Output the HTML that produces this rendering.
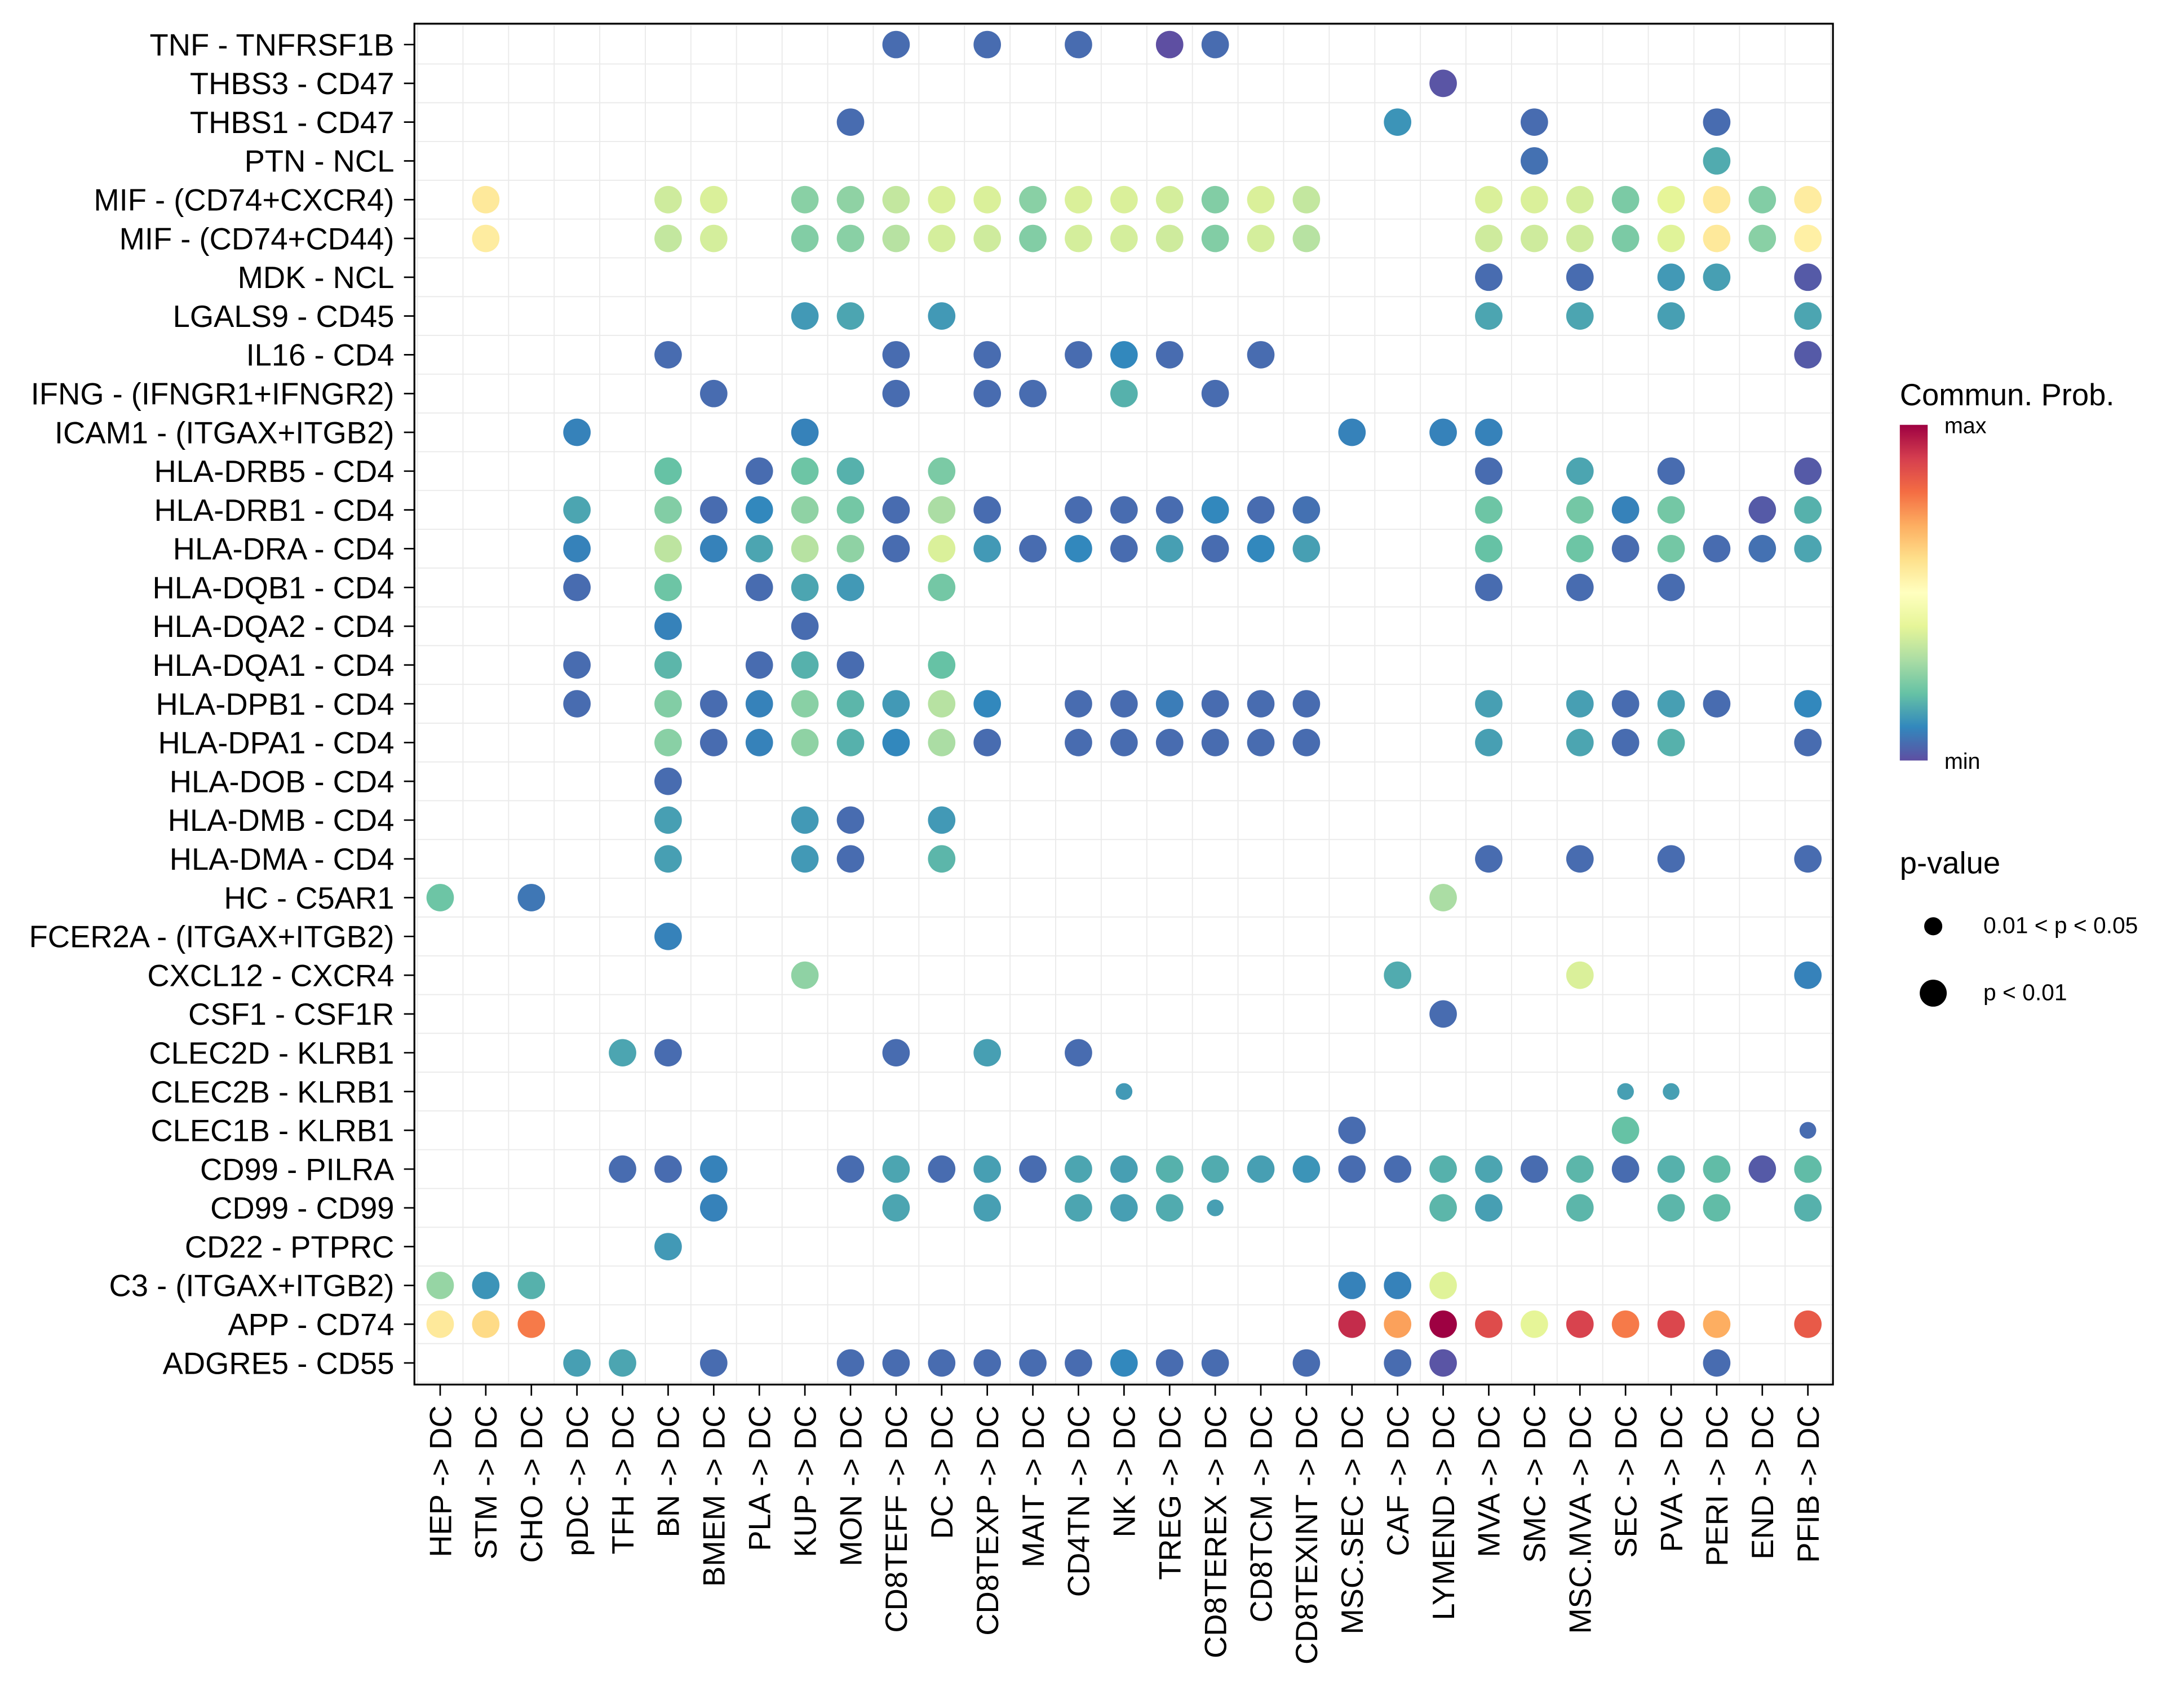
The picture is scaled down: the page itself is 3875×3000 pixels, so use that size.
<!DOCTYPE html>
<html><head><meta charset="utf-8"><style>
html,body{margin:0;padding:0;background:#fff}
svg{display:block}
text{font-family:"Liberation Sans",sans-serif;fill:#000}
</style></head><body>
<svg id="chart" width="3875" height="3000" viewBox="0 0 1568 1214" xmlns="http://www.w3.org/2000/svg">
<defs>
<linearGradient id="cbar" x1="0" y1="1" x2="0" y2="0">
<stop offset="0" stop-color="#5E4FA2"/><stop offset="0.1" stop-color="#3288BD"/><stop offset="0.2" stop-color="#66C2A5"/><stop offset="0.3" stop-color="#ABDDA4"/><stop offset="0.4" stop-color="#E6F598"/><stop offset="0.5" stop-color="#FFFFBF"/><stop offset="0.6" stop-color="#FEE08B"/><stop offset="0.7" stop-color="#FDAE61"/><stop offset="0.8" stop-color="#F46D43"/><stop offset="0.9" stop-color="#D53E4F"/><stop offset="1" stop-color="#9E0142"/>
</linearGradient>
</defs>
<g id="grid"></g>
<g id="dots"></g>
<rect x="297.5" y="17" width="1018.5" height="977" fill="none" stroke="#000" stroke-width="1.3"/>
<g id="ylab"></g>
<g id="xlab"></g>
<g>
<text x="1364" y="291" font-size="22">Commun. Prob.</text>
<rect x="1364" y="305" width="20" height="241" fill="url(#cbar)"/>
<text x="1396" y="311" font-size="16">max</text>
<text x="1396" y="552" font-size="16">min</text>
</g>
<g>
<text x="1364" y="627" font-size="22">p-value</text>
<circle cx="1388" cy="665" r="6.5" fill="#000"/>
<text x="1424" y="670" font-size="16.5">0.01 &lt; p &lt; 0.05</text>
<circle cx="1388" cy="713" r="9.7" fill="#000"/>
<text x="1424" y="718" font-size="16.5">p &lt; 0.01</text>
</g>
</svg>
<script>
const rowLabels = ["TNF - TNFRSF1B","THBS3 - CD47","THBS1 - CD47","PTN - NCL","MIF - (CD74+CXCR4)","MIF - (CD74+CD44)","MDK - NCL","LGALS9 - CD45","IL16 - CD4","IFNG - (IFNGR1+IFNGR2)","ICAM1 - (ITGAX+ITGB2)","HLA-DRB5 - CD4","HLA-DRB1 - CD4","HLA-DRA - CD4","HLA-DQB1 - CD4","HLA-DQA2 - CD4","HLA-DQA1 - CD4","HLA-DPB1 - CD4","HLA-DPA1 - CD4","HLA-DOB - CD4","HLA-DMB - CD4","HLA-DMA - CD4","HC - C5AR1","FCER2A - (ITGAX+ITGB2)","CXCL12 - CXCR4","CSF1 - CSF1R","CLEC2D - KLRB1","CLEC2B - KLRB1","CLEC1B - KLRB1","CD99 - PILRA","CD99 - CD99","CD22 - PTPRC","C3 - (ITGAX+ITGB2)","APP - CD74","ADGRE5 - CD55"];
const colLabels = ["HEP -> DC","STM -> DC","CHO -> DC","pDC -> DC","TFH -> DC","BN -> DC","BMEM -> DC","PLA -> DC","KUP -> DC","MON -> DC","CD8TEFF -> DC","DC -> DC","CD8TEXP -> DC","MAIT -> DC","CD4TN -> DC","NK -> DC","TREG -> DC","CD8TEREX -> DC","CD8TCM -> DC","CD8TEXINT -> DC","MSC.SEC -> DC","CAF -> DC","LYMEND -> DC","MVA -> DC","SMC -> DC","MSC.MVA -> DC","SEC -> DC","PVA -> DC","PERI -> DC","END -> DC","PFIB -> DC"];
// per-row [columnIndex, relative probability 0..1]
const rowValues = [
[[10,.05],[12,.05],[14,.05],[16,0],[17,.05]],
[[22,.01]],
[[9,.05],[21,.12],[24,.05],[28,.05]],
[[24,.06],[28,.16]],
[[1,.57],[5,.36],[6,.38],[8,.25],[9,.26],[10,.34],[11,.38],[12,.38],[13,.25],[14,.38],[15,.38],[16,.37],[17,.24],[18,.38],[19,.34],[23,.38],[24,.38],[25,.37],[26,.23],[27,.40],[28,.57],[29,.24],[30,.56]],
[[1,.56],[5,.34],[6,.37],[8,.24],[9,.25],[10,.32],[11,.37],[12,.36],[13,.24],[14,.37],[15,.37],[16,.36],[17,.24],[18,.37],[19,.32],[23,.36],[24,.36],[25,.36],[26,.23],[27,.39],[28,.57],[29,.25],[30,.55]],
[[23,.05],[25,.05],[27,.13],[28,.14],[30,.02]],
[[8,.13],[9,.15],[11,.13],[23,.15],[25,.15],[27,.14],[30,.15]],
[[5,.05],[10,.05],[12,.05],[14,.05],[15,.1],[16,.05],[18,.05],[30,.02]],
[[6,.05],[10,.05],[12,.05],[13,.05],[15,.17],[17,.05]],
[[3,.09],[8,.09],[20,.09],[22,.09],[23,.09]],
[[5,.2],[7,.05],[8,.21],[9,.17],[11,.23],[23,.05],[25,.15],[27,.05],[30,.02]],
[[3,.15],[5,.24],[6,.05],[7,.1],[8,.26],[9,.22],[10,.05],[11,.3],[12,.05],[14,.05],[15,.05],[16,.05],[17,.1],[18,.05],[19,.06],[23,.21],[25,.22],[26,.09],[27,.22],[29,.02],[30,.17]],
[[3,.09],[5,.33],[6,.09],[7,.15],[8,.32],[9,.26],[10,.05],[11,.38],[12,.13],[13,.05],[14,.1],[15,.05],[16,.14],[17,.05],[18,.1],[19,.14],[23,.2],[25,.21],[26,.05],[27,.22],[28,.05],[29,.06],[30,.15]],
[[3,.05],[5,.21],[7,.05],[8,.15],[9,.13],[11,.22],[23,.05],[25,.05],[27,.05]],
[[5,.09],[8,.05]],
[[3,.05],[5,.18],[7,.05],[8,.17],[9,.05],[11,.2]],
[[3,.05],[5,.24],[6,.05],[7,.09],[8,.25],[9,.18],[10,.13],[11,.32],[12,.1],[14,.05],[15,.05],[16,.08],[17,.05],[18,.05],[19,.05],[23,.14],[25,.14],[26,.05],[27,.14],[28,.05],[30,.1]],
[[5,.25],[6,.05],[7,.09],[8,.26],[9,.17],[10,.1],[11,.3],[12,.05],[14,.05],[15,.05],[16,.05],[17,.05],[18,.05],[19,.05],[23,.14],[25,.15],[26,.05],[27,.17],[30,.05]],
[[5,.05]],
[[5,.14],[8,.13],[9,.05],[11,.13]],
[[5,.14],[8,.13],[9,.05],[11,.18],[23,.05],[25,.05],[27,.05],[30,.05]],
[[0,.21],[2,.07],[22,.3]],
[[5,.09]],
[[8,.26],[21,.16],[25,.38],[30,.09]],
[[22,.05]],
[[4,.15],[5,.05],[10,.05],[12,.14],[14,.05]],
[[15,.13],[26,.14],[27,.14]],
[[20,.05],[26,.2],[30,.05]],
[[4,.05],[5,.05],[6,.09],[9,.05],[10,.15],[11,.05],[12,.14],[13,.05],[14,.15],[15,.14],[16,.17],[17,.16],[18,.14],[19,.12],[20,.05],[21,.05],[22,.17],[23,.15],[24,.05],[25,.18],[26,.05],[27,.17],[28,.19],[29,.02],[30,.19]],
[[6,.09],[10,.15],[12,.14],[14,.15],[15,.14],[16,.16],[17,.14],[22,.18],[23,.14],[25,.18],[27,.18],[28,.19],[30,.17]],
[[5,.13]],
[[0,.27],[1,.12],[2,.17],[20,.09],[21,.09],[22,.39]],
[[0,.57],[1,.61],[2,.78],[20,.93],[21,.72],[22,1.0],[23,.87],[24,.4],[25,.89],[26,.78],[27,.88],[28,.7],[30,.84]],
[[3,.14],[4,.15],[6,.05],[9,.05],[10,.05],[11,.05],[12,.05],[13,.05],[14,.05],[15,.1],[16,.05],[17,.05],[19,.05],[21,.05],[22,.01],[28,.05]]
];
// [row, col] pairs with 0.01 < p < 0.05 (small dots)
const smallDots = [[27,15],[27,26],[27,27],[28,30],[30,17]];

const NS="http://www.w3.org/2000/svg";
const X0=316, X1=1298, Y0=32, Y1=978.5;
const xScale=i=>X0+(X1-X0)*i/(colLabels.length-1);
const yScale=i=>Y0+(Y1-Y0)*i/(rowLabels.length-1);
const stops=["#5E4FA2","#3288BD","#66C2A5","#ABDDA4","#E6F598","#FFFFBF","#FEE08B","#FDAE61","#F46D43","#D53E4F","#9E0142"];
function hex(h){return [1,3,5].map(k=>parseInt(h.substr(k,2),16));}
function color(v){v=Math.max(0,Math.min(1,v));const p=v*10,i=Math.min(9,Math.floor(p)),t=p-i;const a=hex(stops[i]),b=hex(stops[i+1]);return "rgb("+a.map((c,k)=>Math.round(c+(b[k]-c)*t)).join(",")+")";}
function mk(tag,attrs,parent){const e=document.createElementNS(NS,tag);for(const k in attrs)e.setAttribute(k,attrs[k]);parent.appendChild(e);return e;}
const grid=document.getElementById('grid'),dots=document.getElementById('dots'),yl=document.getElementById('ylab'),xl=document.getElementById('xlab');
const dx=(X1-X0)/(colLabels.length-1), dy=(Y1-Y0)/(rowLabels.length-1);
for(let i=0;i<=colLabels.length;i++){const x=X0+(i-0.5)*dx;if(x>298&&x<1316){const l=mk('line',{x1:x,x2:x,y1:17,y2:994,stroke:'#EBEBEB','stroke-width':0.8},grid);}}
for(let i=0;i<=rowLabels.length;i++){const y=Y0+(i-0.5)*dy;if(y>17&&y<994){const l=mk('line',{x1:298,x2:1316,y1:y,y2:y,stroke:'#EBEBEB','stroke-width':0.8},grid);}}
rowLabels.forEach((lab,i)=>{const y=yScale(i);
 const t=mk('line',{x1:290,x2:297.5,y1:y,y2:y,stroke:'#000','stroke-width':1.1},yl);
 const tx=mk('text',{x:283,y:y+7.8,'text-anchor':'end','font-size':22},yl);tx.textContent=lab;});
colLabels.forEach((lab,i)=>{const x=xScale(i);
 const t=mk('line',{x1:x,x2:x,y1:994,y2:1002,stroke:'#000','stroke-width':1.1},xl);
 const tx=mk('text',{x:0,y:0,'text-anchor':'end','font-size':22,transform:`translate(${x+7.8},1009) rotate(-90)`},xl);tx.textContent=lab;});
rowValues.forEach((row,r)=>{row.forEach(([c,v])=>{
 const small=smallDots.some(s=>s[0]===r&&s[1]===c);
 const d=mk('circle',{cx:xScale(c),cy:yScale(r),r:small?6:9.85,fill:color(v)},dots);
 
 });});
</script>
</body></html>
